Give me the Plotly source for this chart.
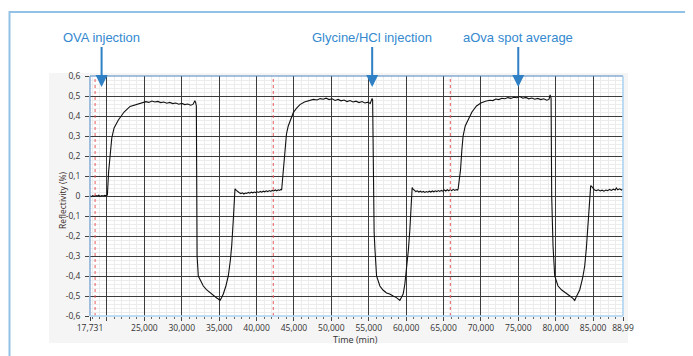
import plotly.graph_objects as go

# ---------------- data ----------------
# Cycle 1: baseline, OVA association, plateau
t_cycle1 = [17731, 17900, 18100, 18300, 18500, 18700, 18900, 19100, 19300, 19500, 19700, 19900,
            20056, 20216, 20643, 20951, 21525, 22287, 23089, 24000, 24825,
            25200, 25600, 26000, 26400, 26800, 27200, 27600, 28000, 28400, 28800, 29200, 29600,
            30000, 30400, 30800, 31200, 31500, 31750, 31850]
r_cycle1 = [0.001, -0.003, 0.002, -0.002, 0.003, -0.001, 0.004, -0.002, 0.002, 0.000, 0.003, 0.001,
            0.005, 0.12, 0.29, 0.34, 0.38, 0.42, 0.448, 0.460, 0.468,
            0.472, 0.468, 0.475, 0.470, 0.473, 0.467, 0.470, 0.464, 0.468, 0.462, 0.465, 0.459,
            0.463, 0.457, 0.460, 0.454, 0.458, 0.476, 0.468]

# Regeneration 1 (Glycine/HCl) and low plateau
t_regen1 = [31950, 31990, 32050, 32213, 32440, 32881, 33300, 33777, 34200, 34672, 34900, 35113,
            35300, 35554, 35900, 36222, 36500, 36676, 36890, 37000, 37060,
            37117, 37300, 37500, 37700, 37900, 38100, 38300, 38500, 38700, 38900, 39100, 39300,
            39500, 39700, 39900, 40100, 40300, 40500, 40700, 40900, 41100, 41300, 41500, 41700,
            41900, 42100, 42300, 42500, 42700, 42900, 43100, 43250]
r_regen1 = [0.45, 0.0, -0.30, -0.40, -0.42, -0.45, -0.468, -0.484, -0.497, -0.51, -0.515, -0.522,
            -0.51, -0.49, -0.45, -0.40, -0.32, -0.25, -0.12, 0.0, 0.035,
            0.036, 0.028, 0.020, 0.016, 0.012, 0.016, 0.010, 0.015, 0.013, 0.018, 0.014, 0.019,
            0.016, 0.020, 0.017, 0.021, 0.018, 0.023, 0.019, 0.024, 0.021, 0.026, 0.022, 0.027,
            0.023, 0.028, 0.025, 0.030, 0.026, 0.031, 0.028, 0.033]

# Cycle 2
t_cycle2 = [43356, 43500, 43650, 43800, 44000, 44240, 44600, 44905, 45300, 45800, 46400, 47136,
            47600, 48100, 48500, 48913, 49300, 49700, 50100, 50500, 50900, 51300, 51700, 52100,
            52500, 52900, 53300, 53700, 54100, 54500, 54900, 55200, 55450, 55520]
r_cycle2 = [0.03, 0.10, 0.18, 0.25, 0.31, 0.35, 0.39, 0.416, 0.437, 0.457, 0.470, 0.479,
            0.483, 0.480, 0.487, 0.484, 0.489, 0.482, 0.486, 0.478, 0.483, 0.476, 0.480, 0.472,
            0.477, 0.470, 0.474, 0.467, 0.472, 0.465, 0.469, 0.463, 0.488, 0.480]

# Regeneration 2 and low plateau
t_regen2 = [55560, 55620, 55720, 55820, 56047, 56488, 56900, 57383, 57800, 58265, 58700, 59160,
            59400, 59601, 59830, 60055, 60300, 60496, 60700, 60804,
            60900, 61100, 61300, 61500, 61700, 61900, 62100, 62300, 62500, 62700, 62900, 63100,
            63300, 63500, 63700, 63900, 64100, 64300, 64500, 64700, 64900, 65100, 65300, 65500,
            65700, 65900, 66100, 66300, 66500, 66700, 66880]
r_regen2 = [0.30, -0.05, -0.18, -0.26, -0.40, -0.45, -0.47, -0.485, -0.49, -0.50, -0.508, -0.522,
            -0.505, -0.49, -0.44, -0.37, -0.27, -0.17, -0.02, 0.042,
            0.036, 0.027, 0.022, 0.026, 0.020, 0.024, 0.019, 0.023, 0.018, 0.022, 0.019, 0.024,
            0.020, 0.025, 0.021, 0.026, 0.022, 0.027, 0.023, 0.028, 0.024, 0.030, 0.025, 0.031,
            0.026, 0.032, 0.027, 0.033, 0.028, 0.032, 0.030]

# Cycle 3
t_cycle3 = [66950, 67100, 67270, 67450, 67617, 67900, 68285, 68800, 69407, 70000, 70600, 71184,
            71600, 72000, 72400, 72800, 73200, 73600, 74000, 74400, 74800, 75200, 75600, 76000,
            76400, 76800, 77200, 77600, 78000, 78400, 78800, 79100, 79250, 79380]
r_cycle3 = [0.035, 0.07, 0.13, 0.23, 0.30, 0.35, 0.38, 0.42, 0.45, 0.465, 0.474, 0.479,
            0.477, 0.485, 0.482, 0.489, 0.486, 0.492, 0.488, 0.494, 0.491, 0.497, 0.489, 0.493,
            0.486, 0.490, 0.484, 0.488, 0.482, 0.486, 0.479, 0.483, 0.505, 0.490]

# Regeneration 3 and final plateau
t_regen3 = [79460, 79520, 79640, 79867, 80308, 80800, 81431, 81900, 82300, 82539, 82800, 83208,
            83600, 83876, 84100, 84316, 84543, 84677,
            84800, 84990, 85200, 85444, 85700, 85950, 86200, 86450, 86700, 86950, 87200, 87450,
            87700, 87950, 88100, 88300, 88550, 88800, 88996]
r_regen3 = [0.0, -0.12, -0.25, -0.40, -0.45, -0.47, -0.49, -0.50, -0.512, -0.522, -0.50, -0.47,
            -0.41, -0.35, -0.26, -0.15, -0.02, 0.052,
            0.048, 0.040, 0.030, 0.027, 0.031, 0.025, 0.029, 0.024, 0.030, 0.027, 0.033, 0.028,
            0.034, 0.030, 0.040, 0.031, 0.036, 0.030, 0.034]

time_min = t_cycle1 + t_regen1 + t_cycle2 + t_regen2 + t_cycle3 + t_regen3
reflectivity = r_cycle1 + r_regen1 + r_cycle2 + r_regen2 + r_cycle3 + r_regen3

# Events marked with arrows
event_times = [19281, 55460, 74992]
event_labels = ["OVA injection", "Glycine/HCl injection", "aOva spot average"]

# Red dotted cycle markers
marker_times = [18412, 42233, 65907]

# Axes
x_range = [17731, 88996]
x_tick_values = [17731, 20000, 25000, 30000, 35000, 40000, 45000, 50000, 55000, 60000,
                 65000, 70000, 75000, 80000, 85000, 88996]
x_tick_text = ["17,731", "", "25,000", "30,000", "35,000", "40,000", "45,000", "50,000",
               "55,000", "60,000", "65,000", "70,000", "75,000", "80,000", "85,000", "88,99"]
y_tick_values = [0.6, 0.5, 0.4, 0.3, 0.2, 0.1, 0.0, -0.1, -0.2, -0.3, -0.4, -0.5, -0.6]
y_tick_text = ["0,6", "0,5", "0,4", "0,3", "0,2", "0,1", "0", "-0,1", "-0,2", "-0,3",
               "-0,4", "-0,5", "-0,6"]

# ---------------- figure ----------------
# The page body adds an 8 px margin, so the figure is drawn 8 px smaller.
OFF = 8
WIN_W, WIN_H = 693, 356
W, H = WIN_W - OFF, WIN_H - OFF
PLOT_L, PLOT_R, PLOT_T, PLOT_B = 90, 623, 76, 316   # plot area in window pixels
L = PLOT_L - OFF
T = PLOT_T - OFF
R = WIN_W - PLOT_R
B = WIN_H - PLOT_B
pw, ph = PLOT_R - PLOT_L, PLOT_B - PLOT_T


def px_x(p):
    return (p - PLOT_L) / pw


def px_y(p):
    return (PLOT_B - p) / ph


fig = go.Figure()
fig.add_trace(go.Scatter(x=time_min, y=reflectivity, mode="lines",
                         line=dict(color="#111111", width=1.1), hoverinfo="skip",
                         showlegend=False))

shapes = []
# grey chart background and white plot area
shapes.append(dict(type="rect", xref="paper", yref="paper", x0=px_x(49), x1=px_x(628),
                   y0=px_y(343), y1=px_y(73), fillcolor="#f5f5f5", line=dict(width=0),
                   layer="below"))
shapes.append(dict(type="rect", xref="paper", yref="paper", x0=0, x1=1, y0=0, y1=1,
                   fillcolor="#ffffff", line=dict(width=0), layer="below"))
# outer light-blue frame
shapes.append(dict(type="rect", xref="paper", yref="paper", x0=px_x(9.5), x1=px_x(720),
                   y0=px_y(380), y1=px_y(12), line=dict(color="#92c2e6", width=2),
                   fillcolor="rgba(0,0,0,0)"))
# red dotted markers
for t in marker_times:
    shapes.append(dict(type="line", xref="x", yref="paper", x0=t, x1=t, y0=0, y1=1,
                       line=dict(color="#e8585a", width=1, dash="dot")))
# plot borders
shapes.append(dict(type="line", xref="paper", yref="paper", x0=0, x1=1, y0=1, y1=1,
                   line=dict(color="#4f82bf", width=1.2)))
shapes.append(dict(type="line", xref="paper", yref="paper", x0=0, x1=0, y0=0, y1=1,
                   line=dict(color="#6a98cf", width=1.2)))
shapes.append(dict(type="line", xref="paper", yref="paper", x0=1, x1=1, y0=0, y1=1,
                   line=dict(color="#a8d2f0", width=1.5)))
shapes.append(dict(type="line", xref="paper", yref="paper", x0=0, x1=1, y0=0, y1=0,
                   line=dict(color="#a8d2f0", width=1.5)))

annotations = []
for t, lab in zip(event_times, event_labels):
    annotations.append(dict(x=t, xref="x", y=px_y(87), yref="paper", text=lab,
                            showarrow=True, ax=0, ay=-49, arrowhead=2, arrowsize=1.2,
                            arrowwidth=2, arrowcolor="#2f80c4", standoff=0,
                            font=dict(family="Liberation Sans, Arial", size=13,
                                      color="#3489cf")))
annotations.append(dict(x=px_x(62), y=px_y(201), xref="paper", yref="paper",
                        xanchor="center", yanchor="middle",
                        text="Reflectivity (%)", textangle=-90, showarrow=False,
                        font=dict(family="Open Sans", size=8.5, color="#3a2a2a")))
annotations.append(dict(x=px_x(355), y=px_y(339), xref="paper", yref="paper",
                        xanchor="center", yanchor="middle",
                        text="Time (min)", showarrow=False,
                        font=dict(family="Open Sans", size=9, color="#333333")))

fig.update_layout(
    width=W, height=H,
    margin=dict(l=L, r=R, t=T, b=B, pad=0, autoexpand=False),
    paper_bgcolor="#ffffff", plot_bgcolor="#ffffff",
    shapes=shapes, annotations=annotations,
    showlegend=False,
    font=dict(family="Open Sans", size=8.5, color="#333333"),
)
fig.update_xaxes(
    range=x_range, tickmode="array", tickvals=x_tick_values, ticktext=x_tick_text,
    ticks="outside", ticklen=4, tickcolor="#444444", tickwidth=1, automargin=False,
    showgrid=True, gridcolor="#3c3c3c", gridwidth=1, zeroline=False, showline=False,
    minor=dict(tickmode="linear", tick0=0, dtick=1000, ticks="outside", ticklen=2,
               tickcolor="#666666", showgrid=True, gridcolor="#ececec", gridwidth=1),
    tickfont=dict(family="Open Sans", size=8.5, color="#333333"),
)
fig.update_yaxes(
    range=[-0.6, 0.6], tickmode="array", tickvals=y_tick_values, ticktext=y_tick_text,
    ticks="outside", ticklen=4, tickcolor="#444444", tickwidth=1, ticklabelstandoff=3,
    automargin=False,
    showgrid=True, gridcolor="#3c3c3c", gridwidth=1, zeroline=False, showline=False,
    minor=dict(tickmode="linear", tick0=0, dtick=0.02, ticks="", showgrid=True,
               gridcolor="#ececec", gridwidth=1),
    tickfont=dict(family="Open Sans", size=8.5, color="#333333"),
)

fig.write_html("out.html")
